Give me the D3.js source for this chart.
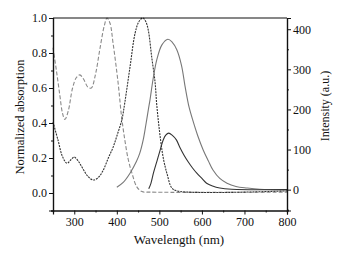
<!DOCTYPE html>
<html>
<head>
<meta charset="utf-8">
<script src="https://cdn.jsdelivr.net/npm/d3@7"></script>
<style>
  body { margin: 0; background: #fff; }
</style>
</head>
<body>
<div id="chart"></div>
<script>
// absorption, dashed gray (peak ~377 nm)
var absGrayWl  = [250, 258, 266, 272, 278, 286, 296, 305, 313, 322, 332, 340, 350, 360, 370, 377, 384, 391, 403, 411, 419, 427, 436, 447, 459, 480, 800];
var absGrayVal = [0.83, 0.70, 0.56, 0.46, 0.42, 0.47, 0.60, 0.66, 0.675, 0.65, 0.605, 0.60, 0.68, 0.82, 0.95, 1.0, 0.97, 0.86, 0.63, 0.44, 0.30, 0.19, 0.11, 0.035, 0.008, 0.005, 0.005];

// absorption, dashed dark (peak ~461 nm)
var absDarkWl  = [250, 262, 272, 283, 292, 300, 310, 320, 332, 345, 357, 368, 380, 391, 402, 412, 419, 431, 443, 452, 461, 468, 474, 482, 490, 494, 503, 510, 518, 529, 541, 800];
var absDarkVal = [0.406, 0.30, 0.21, 0.17, 0.19, 0.205, 0.18, 0.14, 0.095, 0.074, 0.09, 0.13, 0.20, 0.26, 0.34, 0.42, 0.52, 0.72, 0.914, 0.98, 1.0, 0.98, 0.93, 0.777, 0.63, 0.50, 0.30, 0.19, 0.11, 0.03, 0.012, 0.012];

// emission, solid gray (peak ~520 nm)
var emGrayWl  = [400, 415, 431, 446, 454, 462, 468, 474, 478, 485, 494, 506, 520, 530, 541, 552, 560, 566, 570, 578, 590, 603, 615, 626, 642, 659, 680, 706, 736, 800];
var emGrayVal = [6, 18, 41, 70, 91, 124, 160, 199, 224, 274, 324, 361, 375, 368, 349, 310, 260, 225, 205, 175, 135, 99, 72, 49, 28, 16, 8, 4, 1, 0];

// emission, solid dark (peak ~522 nm)
var emDarkWl  = [475, 480, 486, 494, 502, 509, 515, 522, 530, 540, 548, 558, 568, 578, 588, 600, 611, 625, 642, 670, 800];
var emDarkVal = [2, 15, 41, 70, 99, 124, 136, 141, 136, 124, 106, 86, 69, 54, 41, 28, 16, 9, 4, 1, 0];

var xTicks = [300, 400, 500, 600, 700, 800];
var yLeftTicks = [0.0, 0.2, 0.4, 0.6, 0.8, 1.0];
var yRightTicks = [0, 100, 200, 300, 400];

function zip(xs, ys) {
    return xs.map(function(x, i) { return [x, ys[i]]; });
}

function init() {

    var w = 341;
    var h = 255;

    var left = 53, right = 287, top = 18, bottom = 210.5;
    var serif = "Liberation Serif";

    var xScale = d3.scaleLinear().domain([250, 800]).range([left, right]);
    var yLeft = d3.scaleLinear().domain([-0.1, 1.0]).range([bottom, top]);
    var yRight = d3.scaleLinear().domain([-52, 428]).range([bottom, top]);

    var svg = d3.select("#chart")
                .append("svg")
                .attr("width", w)
                .attr("height", h)
                .attr("font-family", serif);

    // curves
    var absLine = d3.line()
                    .x(function(d) { return xScale(d[0]); })
                    .y(function(d) { return yLeft(d[1]); })
                    .curve(d3.curveCatmullRom.alpha(0.5));

    var emLine = d3.line()
                   .x(function(d) { return xScale(d[0]); })
                   .y(function(d) { return yRight(d[1]); })
                   .curve(d3.curveCatmullRom.alpha(0.5));

    svg.append("path")
       .attr("d", absLine(zip(absGrayWl, absGrayVal)))
       .attr("fill", "none")
       .attr("stroke", "#8a8a8a")
       .attr("stroke-width", 1.1)
       .attr("stroke-dasharray", "4,2");

    svg.append("path")
       .attr("d", absLine(zip(absDarkWl, absDarkVal)))
       .attr("fill", "none")
       .attr("stroke", "#333")
       .attr("stroke-width", 1.1)
       .attr("stroke-dasharray", "2,1");

    svg.append("path")
       .attr("d", emLine(zip(emGrayWl, emGrayVal)))
       .attr("fill", "none")
       .attr("stroke", "#777")
       .attr("stroke-width", 1.1);

    svg.append("path")
       .attr("d", emLine(zip(emDarkWl, emDarkVal)))
       .attr("fill", "none")
       .attr("stroke", "#333")
       .attr("stroke-width", 1.1);

    // axes
    var xAxis = d3.axisBottom(xScale).tickValues(xTicks).tickSize(4).tickPadding(3).tickFormat(d3.format("d"));
    var xMinor = d3.axisBottom(xScale).tickValues([250, 350, 450, 550, 650, 750]).tickSize(2).tickFormat("");
    var lAxis = d3.axisLeft(yLeft).tickValues(yLeftTicks).tickSize(4).tickPadding(2).tickFormat(d3.format(".1f"));
    var lMinor = d3.axisLeft(yLeft).tickValues([-0.1, 0.1, 0.3, 0.5, 0.7, 0.9]).tickSize(2).tickFormat("");
    var rAxis = d3.axisRight(yRight).tickValues(yRightTicks).tickSize(4).tickPadding(2).tickFormat(d3.format("d"));
    var rMinor = d3.axisRight(yRight).tickValues([-50, 50, 150, 250, 350]).tickSize(2).tickFormat("");

    var axes = [
        [xAxis, "translate(0," + bottom + ")"],
        [xMinor, "translate(0," + bottom + ")"],
        [lAxis, "translate(" + left + ",0)"],
        [lMinor, "translate(" + left + ",0)"],
        [rAxis, "translate(" + right + ",0)"],
        [rMinor, "translate(" + right + ",0)"]
    ];
    axes.forEach(function(a) {
        var g = svg.append("g").attr("transform", a[1]).call(a[0]);
        g.attr("font-family", serif).attr("font-size", 12);
        g.selectAll("text").attr("fill", "#111");
        g.selectAll("path, line").attr("stroke", "#111");
        g.select(".domain").attr("stroke-width", 1.2);
    });

    // top frame line
    svg.append("line")
       .attr("x1", left).attr("x2", right)
       .attr("y1", top).attr("y2", top)
       .attr("stroke", "#111")
       .attr("stroke-width", 1.2);

    // axis titles
    svg.append("text")
       .attr("x", 179)
       .attr("y", 244)
       .attr("text-anchor", "middle")
       .attr("font-size", 13)
       .attr("fill", "#111")
       .text("Wavelength (nm)");

    svg.append("text")
       .attr("transform", "translate(24,117) rotate(-90)")
       .attr("text-anchor", "middle")
       .attr("font-size", 12.5)
       .attr("fill", "#111")
       .text("Normalized absorption");

    svg.append("text")
       .attr("transform", "translate(329,106) rotate(-90)")
       .attr("text-anchor", "middle")
       .attr("font-size", 12)
       .attr("fill", "#111")
       .text("Intensity (a.u.)");
}

window.onload = init;
</script>
</body>
</html>
